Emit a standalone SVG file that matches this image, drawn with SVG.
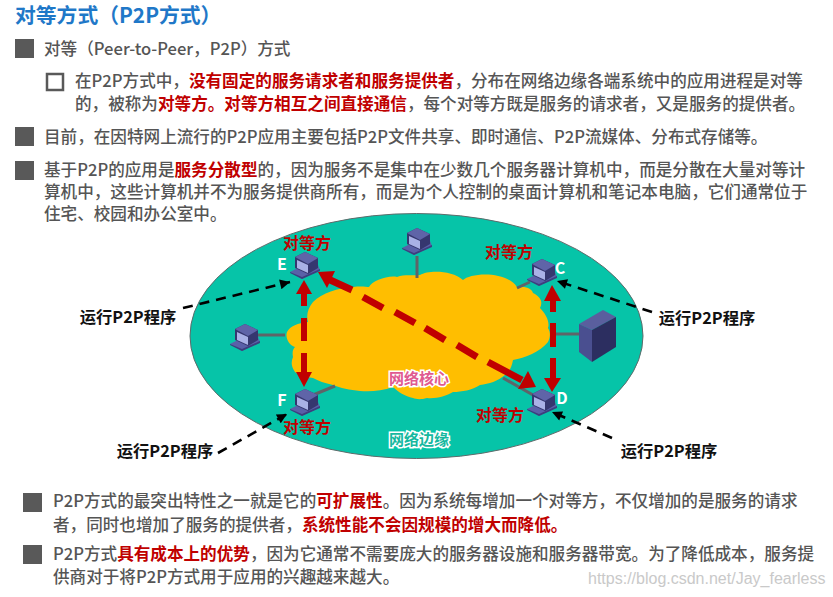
<svg xmlns="http://www.w3.org/2000/svg" width="833" height="597" viewBox="0 0 833 597">
<style>
text{font-family:"Noto Sans CJK SC","Noto Sans",sans-serif}
.b{font-size:16.6px;font-weight:500;fill:#555}
.r{fill:#c00000;font-weight:700}
.bu{fill:#595959}
.p{font-size:16px;font-weight:700;fill:#c00000;text-anchor:middle}
.run{font-size:16.3px;font-weight:700;fill:#111;text-anchor:middle}
.l{font-size:16px;font-weight:700;fill:#fff;text-anchor:middle}
.link{stroke:#5f6468;stroke-width:3;fill:none}
.da{stroke:#000;stroke-width:2.6;stroke-dasharray:10 7;fill:none}
.ra{stroke:#c00000;stroke-width:6;fill:none}
.ar{fill:#c00000}
.cl{font-size:15px;font-weight:700;stroke:#fff;stroke-width:3;paint-order:stroke;text-anchor:middle}
</style>
<defs>
<marker id="ah" viewBox="0 0 10 10" refX="10" refY="5" markerUnits="userSpaceOnUse" markerWidth="11" markerHeight="10" orient="auto"><path d="M0 0L10 5L0 10z" fill="#000"/></marker>
<g id="pc">
<path d="M-15 7L-3 1L13 0L15 5L-3 14z" fill="#5a60a8"/>
<path d="M-15 7L-3 12L15 4L15 6L-3 14L-15 8z" fill="#3c3f7e"/>
<path d="M-10 -8L0 -13L13 -7L13 3L3 9L-10 3z" fill="#35376f"/>
<path d="M-10 -8L0 -13L13 -7L3 -1z" fill="#5f64a8"/>
<path d="M-8 -5L3 0L3 8L-8 3z" fill="#a9b1e6"/>
</g>
</defs>
<rect width="833" height="597" fill="#fff"/>
<text x="15" y="23" font-size="20.8" font-weight="700" fill="#1f78c8">对等方式（P2P方式）</text>

<rect class="bu" x="15" y="39" width="19" height="19"/>
<text class="b" x="44" y="55">对等（Peer-to-Peer，P2P）方式</text>
<rect x="47" y="74" width="16" height="16" fill="none" stroke="#595959" stroke-width="2.5"/>
<text class="b" x="75" y="87">在P2P方式中，<tspan class="r">没有固定的服务请求者和服务提供者</tspan>，分布在网络边缘各端系统中的应用进程是对等</text>
<text class="b" x="75" y="110">的，被称为<tspan class="r">对等方。对等方相互之间直接通信</tspan>，每个对等方既是服务的请求者，又是服务的提供者。</text>
<rect class="bu" x="15" y="127" width="19" height="19"/>
<text class="b" x="44" y="143">目前，在因特网上流行的P2P应用主要包括P2P文件共享、即时通信、P2P流媒体、分布式存储等。</text>
<rect class="bu" x="15" y="161" width="19" height="19"/>
<text class="b" x="44" y="176">基于P2P的应用是<tspan class="r">服务分散型</tspan>的，因为服务不是集中在少数几个服务器计算机中，而是分散在大量对等计</text>
<text class="b" x="44" y="198">算机中，这些计算机并不为服务提供商所有，而是为个人控制的桌面计算机和笔记本电脑，它们通常位于</text>
<text class="b" x="44" y="220">住宅、校园和办公室中。</text>

<g id="network">
<ellipse cx="416.5" cy="336" rx="226.5" ry="122.5" fill="#06c4a8" stroke="#5f6b6b" stroke-width="1"/>
<path d="M353 287C362 286 366 287 369 287C372 281 388 275 397 277C405 274 412 276 420 275C428 270 452 270 463 280C470 273 505 270 517 287C526 286 532 289 533 293C541 297 543 302 540 308C546 314 550 322 548 328C551 333 550 338 548 342C540 352 525 358 513 360C512 366 510 371 505 375C498 381 489 384 480 385C472 390 462 392 453 392C446 396 436 399 427 398C420 400 416 399 413 398C405 396 398 392 393 387C382 391 370 392 360 391C350 390 340 388 333 385C325 383 318 381 313 378C305 377 298 375 295 372C291 366 291 362 293 357C292 352 293 349 295 347C289 345 285 338 287 332C290 326 298 323 308 322C306 315 308 308 313 302C322 293 338 288 353 287z" fill="#ffbe00"/>
<text class="cl" x="419" y="384" fill="#e05a90">网络核心</text>
<text class="cl" x="419" y="445" fill="#16b8a0">网络边缘</text>
</g>

<g id="connectors">
<path class="link" d="M417 256V278"/>
<path class="link" d="M257 335H285"/>
<path class="link" d="M313 395L335 386"/>
<path class="link" d="M517 288L530 282"/>
<path class="link" d="M553 334H580"/>
<path class="link" d="M503 378L533 395"/>
<path class="da" d="M183 308L290 282" marker-end="url(#ah)"/>
<path class="da" d="M218 453L287 414" marker-end="url(#ah)"/>
<path class="da" d="M652 312L557 281" marker-end="url(#ah)"/>
<path class="da" d="M612 438L552 412" marker-end="url(#ah)"/>
<path class="ra" d="M304 294V306M304 318V341M304 353V373"/>
<path class="ar" d="M296 294L304 280L312 294z"/>
<path class="ar" d="M296 372H312L304 387z"/>
<path class="ra" d="M553 301V312M553 323V347M553 358V379"/>
<path class="ar" d="M544 301L552 285L561 301z"/>
<path class="ar" d="M544 378H561L552 392z"/>
<path class="ra" stroke-width="7" style="stroke-width:7" d="M328 279L352 290M363 297L383 308M395 312L415 323M425 328L445 340M457 345L477 357M488 362L522 380"/>
<path class="ar" d="M318 272L335 271L327 288z"/>
<path class="ar" d="M536 387L528 371L518 389z"/>
</g>

<g id="node-e"><use href="#pc" x="305" y="265"/><text class="l" x="282" y="270">E</text><text class="p" x="307" y="249">对等方</text></g>
<g id="node-f"><use href="#pc" x="305" y="402"/><text class="l" x="282" y="406">F</text><text class="p" x="307" y="433">对等方</text></g>
<g id="node-c"><use href="#pc" x="542" y="272"/><text class="l" x="560" y="274">C</text><text class="p" x="509" y="258">对等方</text></g>
<g id="node-d"><use href="#pc" x="542" y="402"/><text class="l" x="562" y="404">D</text><text class="p" x="500" y="421">对等方</text></g>
<g id="node-top"><use href="#pc" x="417" y="241"/></g>
<g id="node-left"><use href="#pc" x="245" y="337"/></g>
<g id="node-server">
<path d="M579 324L603 310L616 317L592 330z" fill="#5a5f9e"/>
<path d="M579 324L592 330V362L579 352z" fill="#4a4f90"/>
<path d="M592 330L616 317V347L592 362z" fill="#2c2e60"/>
</g>

<text class="run" x="128" y="323">运行P2P程序</text>
<text class="run" x="707" y="324">运行P2P程序</text>
<text class="run" x="165" y="457">运行P2P程序</text>
<text class="run" x="669" y="457">运行P2P程序</text>

<rect class="bu" x="23" y="493" width="19" height="19"/>
<text class="b" x="53" y="507">P2P方式的最突出特性之一就是它的<tspan class="r">可扩展性</tspan>。因为系统每增加一个对等方，不仅增加的是服务的请求</text>
<text class="b" x="53" y="531">者，同时也增加了服务的提供者，<tspan class="r">系统性能不会因规模的增大而降低。</tspan></text>
<rect class="bu" x="23" y="545" width="19" height="19"/>
<text class="b" x="53" y="560">P2P方式<tspan class="r">具有成本上的优势</tspan>，因为它通常不需要庞大的服务器设施和服务器带宽。为了降低成本，服务提</text>
<text class="b" x="53" y="583">供商对于将P2P方式用于应用的兴趣越来越大。</text>
<text x="588" y="584" font-size="16" fill="#c9c9c9" style="font-family:'Liberation Sans',sans-serif">https://blog.csdn.net/Jay_fearless</text>
</svg>
